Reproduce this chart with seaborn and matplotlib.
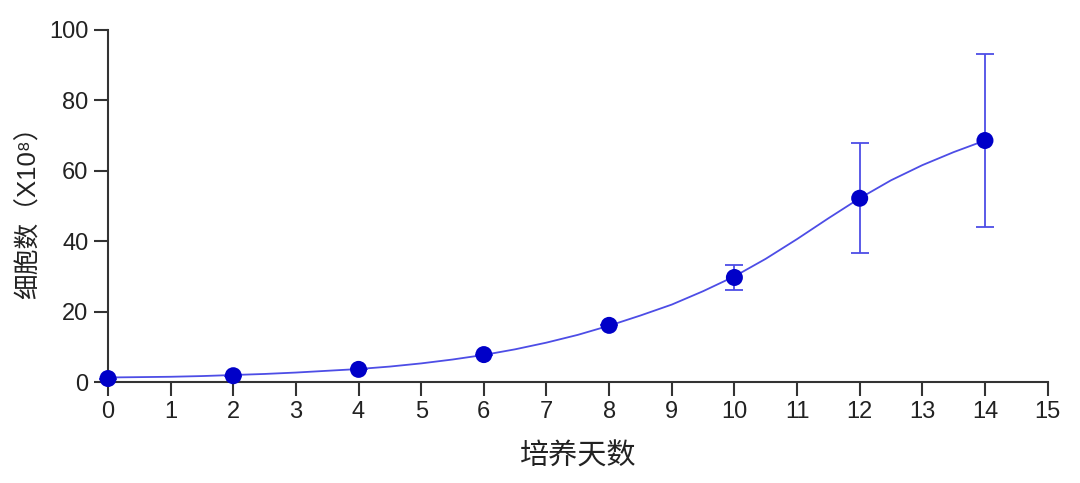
import matplotlib
matplotlib.use('Agg')

import numpy as np
import pandas as pd
import seaborn as sns
import matplotlib.pyplot as plt

sns.set_style("ticks")
plt.rcParams['font.family'] = ['Liberation Sans', 'Noto Sans CJK SC', 'DejaVu Sans']
plt.rcParams['axes.unicode_minus'] = False

# 测量数据（培养天数 / 细胞数 X10^8）
days = [0, 2, 4, 6, 8, 10, 12, 14]
cells = [1.0, 1.8, 3.6, 7.8, 16.1, 29.7, 52.2, 68.6]
err_low = [0, 0, 0, 0, 0, 3.6, 15.5, 24.6]
err_high = [0, 0, 0, 0, 0, 3.5, 15.6, 24.6]

# 拟合曲线
fit_days = [0, 0.5, 1, 1.5, 2, 2.5, 3, 3.5, 4, 4.5, 5, 5.5, 6, 6.5, 7,
            7.5, 8, 8.5, 9, 9.5, 10, 10.5, 11, 11.5, 12, 12.5, 13, 13.5, 14]
fit_cells = [1.3, 1.4, 1.5, 1.7, 2.0, 2.3, 2.7, 3.2, 3.7, 4.4, 5.3, 6.4, 7.7, 9.3, 11.2,
             13.4, 16.0, 18.9, 22.0, 25.8, 30.0, 35.0, 40.6, 46.5, 52.2, 57.3, 61.6, 65.3, 68.6]

x_ticks = list(range(0, 16))
y_ticks = [0, 20, 40, 60, 80, 100]

df = pd.DataFrame({'day': days, 'cells': cells})
fit_df = pd.DataFrame({'day': fit_days, 'cells': fit_cells})

line_color = '#4d4de6'
point_color = '#0000c8'
axis_color = '#333333'

fig = plt.figure(figsize=(10.8, 4.83), dpi=100)
ax = fig.add_axes([0.1, 0.209, 0.870, 0.729])

sns.lineplot(data=fit_df, x='day', y='cells', color=line_color, linewidth=1.3, ax=ax,
             clip_on=False)
ax.errorbar(days, cells, yerr=[err_low, err_high], fmt='none', ecolor=line_color,
            elinewidth=1.3, capsize=6.5, capthick=1.3, clip_on=False, zorder=3)
sns.scatterplot(data=df, x='day', y='cells', color=point_color, s=150, edgecolor='none',
                ax=ax, zorder=4, clip_on=False)

ax.set_xlim(0, 15)
ax.set_ylim(0, 100)
ax.set_xticks(x_ticks)
ax.set_yticks(y_ticks)
ax.tick_params(axis='both', direction='out', length=10, width=1.5, color=axis_color,
               labelsize=17, labelcolor='#222222', pad=4)
for side in ['left', 'bottom']:
    ax.spines[side].set_linewidth(1.5)
    ax.spines[side].set_color(axis_color)
sns.despine(ax=ax)

ax.set_xlabel('培养天数', fontsize=21, color='#222222', labelpad=14)
ax.set_ylabel('细胞数（X10⁸）', fontsize=18.5, color='#222222', labelpad=6)

plt.savefig('out.png', dpi=100)
